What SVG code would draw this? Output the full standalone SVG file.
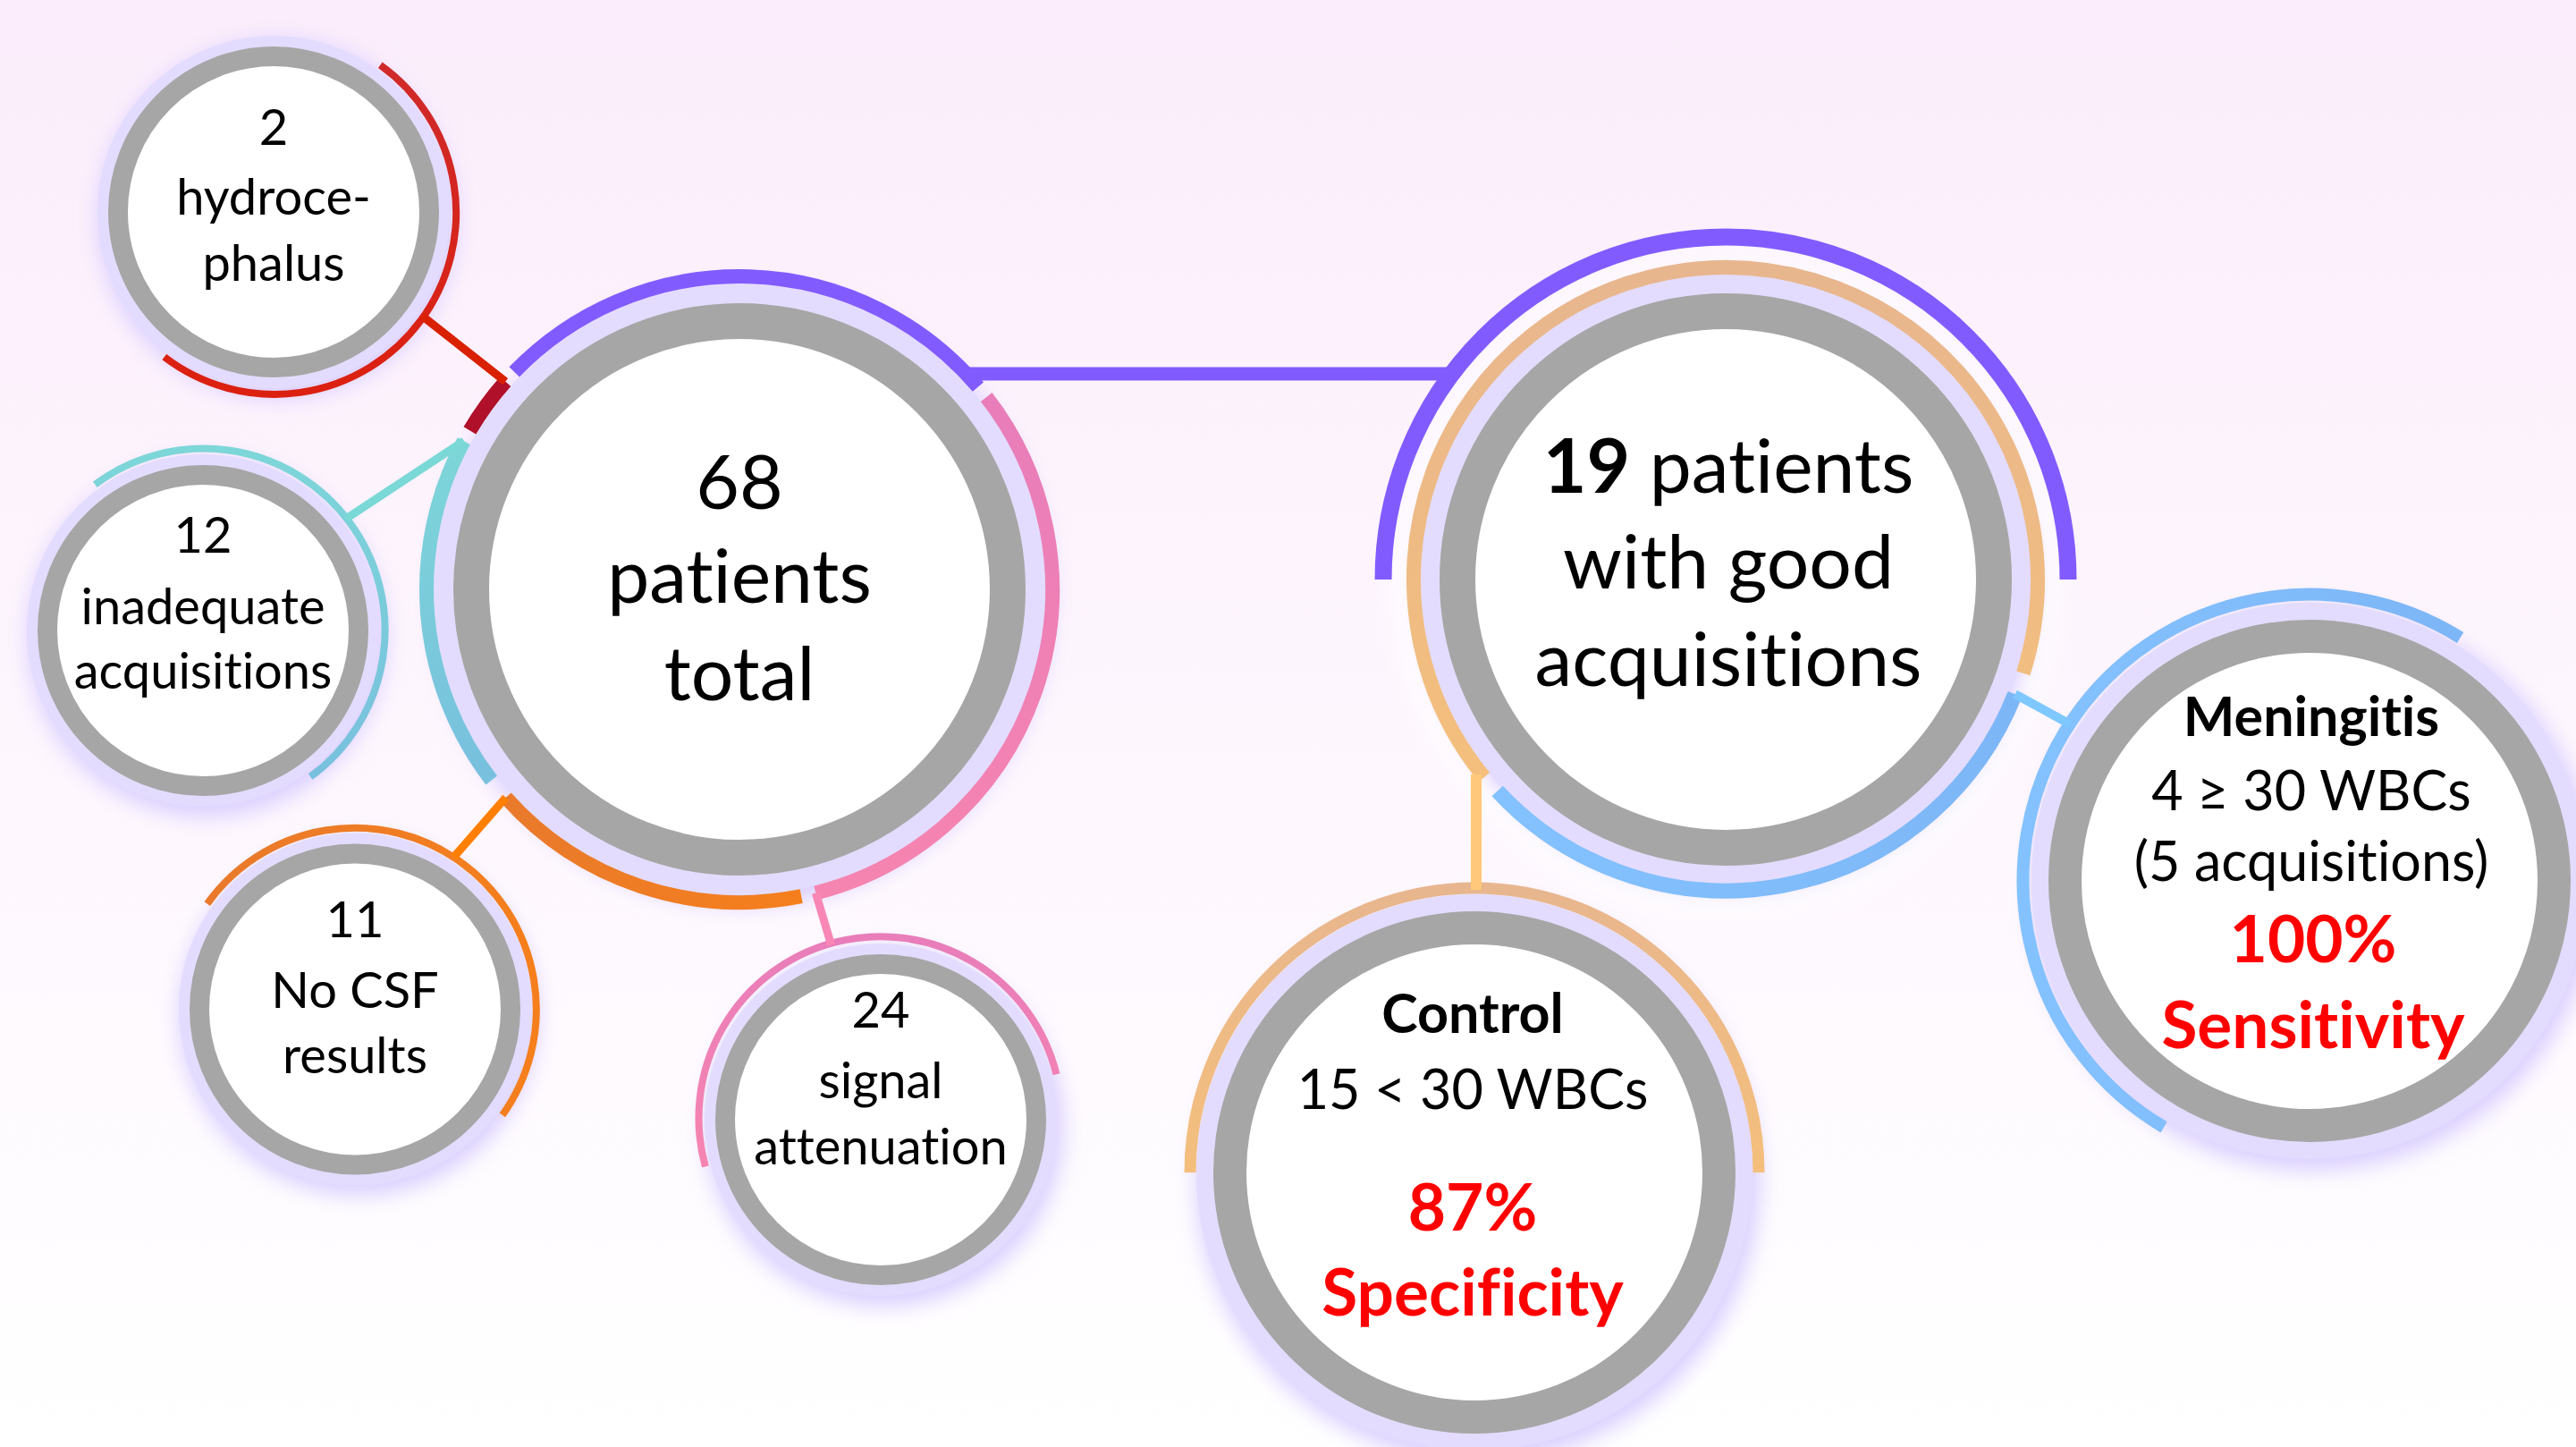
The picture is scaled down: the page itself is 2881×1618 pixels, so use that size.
<svg xmlns="http://www.w3.org/2000/svg" width="2881" height="1618" viewBox="0 0 2881 1618">
  <defs>
    <linearGradient id="bg" x1="0" y1="0" x2="0" y2="1">
      <stop offset="0" stop-color="#FBEDFB"/>
      <stop offset="0.6" stop-color="#FEF8FE"/>
      <stop offset="1" stop-color="#FFFFFF"/>
    </linearGradient>
    <linearGradient id="gCyan" x1="0" y1="0" x2="0" y2="1">
      <stop offset="0" stop-color="#7DD6D8"/>
      <stop offset="1" stop-color="#78C0DE"/>
    </linearGradient>
    <linearGradient id="gPink" x1="0" y1="0" x2="0" y2="1">
      <stop offset="0" stop-color="#E87DBA"/>
      <stop offset="1" stop-color="#F684B0"/>
    </linearGradient>
    <linearGradient id="gOrange" x1="0" y1="0" x2="1" y2="0">
      <stop offset="0" stop-color="#E97A2C"/>
      <stop offset="1" stop-color="#F57F1C"/>
    </linearGradient>
    <linearGradient id="gRed" x1="0" y1="0" x2="0" y2="1">
      <stop offset="0" stop-color="#CF2A2A"/>
      <stop offset="1" stop-color="#DC2010"/>
    </linearGradient>
    <linearGradient id="gGold" x1="0" y1="0" x2="0" y2="1">
      <stop offset="0" stop-color="#E8B68E"/>
      <stop offset="1" stop-color="#F4BF7C"/>
    </linearGradient>
    <linearGradient id="gBlue" x1="0" y1="0" x2="1" y2="0">
      <stop offset="0" stop-color="#84C2FF"/>
      <stop offset="1" stop-color="#7DB6F6"/>
    </linearGradient>
    <filter id="glow" x="-30%" y="-30%" width="160%" height="160%">
      <feGaussianBlur stdDeviation="12"/>
    </filter>
    <style>
      .halo { fill: #D9CEFF; filter: url(#glow); }
      .band { fill: #E3DCFE; }
      .face { fill: #FFFFFF; }
      .ring { fill: none; stroke: #A6A6A6; }
      .arc { fill: none; stroke-linecap: butt; }
      .link { fill: none; stroke-linecap: butt; }
      text { font-family: Lato, "Liberation Sans", sans-serif; fill: #000000; text-anchor: middle;
             font-variant-ligatures: none; font-feature-settings: "liga" 0, "clig" 0; }
      .s { font-size: 56px; }
      .L { font-size: 84px; }
      .m { font-size: 61px; }
      .b { font-weight: bold; }
      .red { fill: #FF0000; font-weight: bold; font-size: 73px; }
    </style>
  </defs>

  <rect x="0" y="0" width="2881" height="1618" fill="url(#bg)"/>

  <!-- 2 hydrocephalus -->
  <g id="node-hydrocephalus">
    <circle class="halo" cx="310" cy="245" r="200"/>
    <circle class="band" cx="306" cy="237" r="197"/>
    <circle class="face" cx="306" cy="237" r="174"/>
    <circle class="ring" cx="306" cy="237" r="174" stroke-width="22"/>
    <path class="arc" d="M425.3,72.8 A203,203 0 1,1 183.8,399.1" stroke="url(#gRed)" stroke-width="8"/>
    <text class="s" x="306" y="162">2</text>
    <text class="s" x="306" y="240">hydroce-</text>
    <text class="s" x="306" y="314">phalus</text>
  </g>

  <!-- 12 inadequate acquisitions -->
  <g id="node-inadequate">
    <circle class="halo" cx="231" cy="713" r="200"/>
    <circle class="band" cx="227" cy="705" r="197"/>
    <circle class="face" cx="227" cy="705" r="174"/>
    <circle class="ring" cx="227" cy="705" r="174" stroke-width="22"/>
    <path class="arc" d="M106.3,541.8 A203,203 0 1,1 347.2,868.6" stroke="url(#gCyan)" stroke-width="8"/>
    <text class="s" x="227" y="618">12</text>
    <text class="s" x="227" y="698">inadequate</text>
    <text class="s" x="227" y="770">acquisitions</text>
  </g>

  <!-- 11 No CSF results -->
  <g id="node-nocsf">
    <circle class="halo" cx="401" cy="1136" r="200"/>
    <circle class="band" cx="397" cy="1128.5" r="197"/>
    <circle class="face" cx="397" cy="1128.5" r="174"/>
    <circle class="ring" cx="397" cy="1128.5" r="174" stroke-width="22"/>
    <path class="arc" d="M231.7,1010.6 A203,203 0 1,1 561.9,1246.9" stroke="url(#gOrange)" stroke-width="8"/>
    <text class="s" x="397" y="1048">11</text>
    <text class="s" x="397" y="1127">No CSF</text>
    <text class="s" x="397" y="1200">results</text>
  </g>

  <!-- 24 signal attenuation -->
  <g id="node-signal">
    <circle class="halo" cx="989" cy="1260" r="200"/>
    <circle class="band" cx="985" cy="1252" r="197"/>
    <circle class="face" cx="985" cy="1252" r="174"/>
    <circle class="ring" cx="985" cy="1252" r="174" stroke-width="22"/>
    <path class="arc" d="M788.9,1304.5 A203,203 0 1,1 1181.5,1201.2" stroke="url(#gPink)" stroke-width="8"/>
    <text class="s" x="985" y="1149">24</text>
    <text class="s" x="985" y="1228">signal</text>
    <text class="s" x="985" y="1302">attenuation</text>
  </g>

  <!-- 68 patients total -->
  <g id="node-total">
    <circle class="halo" cx="831" cy="667" r="345"/>
    <circle class="band" cx="827" cy="659" r="342"/>
    <circle class="face" cx="827" cy="659" r="300"/>
    <circle class="ring" cx="827" cy="659" r="300" stroke-width="40"/>
    <path class="arc" d="M575.2,415.9 A350,350 0 0,1 1093.9,432.6" stroke="#825BFF" stroke-width="16"/>
    <path class="arc" d="M1103.2,444 A350,350 0 0,1 912.3,998.5" stroke="url(#gPink)" stroke-width="16"/>
    <path class="arc" d="M896.2,1002.1 A350,350 0 0,1 565.7,891.8" stroke="url(#gOrange)" stroke-width="16"/>
    <path class="arc" d="M549.7,872.5 A350,350 0 0,1 518.8,493.1" stroke="url(#gCyan)" stroke-width="16"/>
    <path class="arc" d="M525.4,481.4 A350,350 0 0,1 565.3,426.6" stroke="#B0102A" stroke-width="16"/>
    <text class="L" x="827" y="569">68</text>
    <text class="L" x="827" y="674">patients</text>
    <text class="L" x="827" y="783">total</text>
  </g>

  <!-- 19 patients with good acquisitions -->
  <g id="node-good">
    <circle class="halo" cx="1934" cy="656" r="345"/>
    <circle cx="1930" cy="648" r="362" fill="none" stroke="#FFFFFF" stroke-width="22" opacity="0.8" filter="url(#glow)"/>
    <circle class="band" cx="1930" cy="648" r="342"/>
    <circle class="face" cx="1930" cy="648" r="300"/>
    <circle class="ring" cx="1930" cy="648" r="300" stroke-width="40"/>
    <path class="arc" d="M1659.9,869.1 A349,349 0 1,1 2262.8,752.9" stroke="url(#gGold)" stroke-width="16"/>
    <path class="arc" d="M2253.6,776.1 A348,348 0 0,1 1674.7,884.4" stroke="url(#gBlue)" stroke-width="17"/>
    <path class="arc" d="M1547,648 A383,383 0 0,1 2313,648" stroke="#825BFF" stroke-width="19"/>
    <text class="L" x="1933" y="551"><tspan class="b">19</tspan> patients</text>
    <text class="L" x="1933" y="658">with good</text>
    <text class="L" x="1933" y="767">acquisitions</text>
  </g>

  <!-- Control -->
  <g id="node-control">
    <circle class="halo" cx="1653" cy="1319" r="315"/>
    <circle class="band" cx="1649" cy="1311" r="311"/>
    <circle class="face" cx="1649" cy="1311" r="273.5"/>
    <circle class="ring" cx="1649" cy="1311" r="273.5" stroke-width="37"/>
    <path class="arc" d="M1331,1311 A318,318 0 0,1 1967,1311" stroke="url(#gGold)" stroke-width="13"/>
    <text class="m b" x="1647" y="1155">Control</text>
    <text class="m" x="1647" y="1240">15 &lt; 30 WBCs</text>
    <text class="red" x="1647" y="1376">87%</text>
    <text class="red" x="1647" y="1471">Specificity</text>
  </g>

  <!-- Meningitis -->
  <g id="node-meningitis">
    <circle class="halo" cx="2587" cy="993" r="315"/>
    <circle class="band" cx="2583" cy="985" r="311"/>
    <circle class="face" cx="2583" cy="985" r="273.5"/>
    <circle class="ring" cx="2583" cy="985" r="273.5" stroke-width="37"/>
    <path class="arc" d="M2420.1,1260.4 A320,320 0 1,1 2751.6,713" stroke="url(#gBlue)" stroke-width="14"/>
    <text class="m b" x="2585" y="823">Meningitis</text>
    <text class="m" x="2585" y="906">4 ≥ 30 WBCs</text>
    <text class="m" x="2585" y="985">(5 acquisitions)</text>
    <text class="red" x="2587" y="1076">100%</text>
    <text class="red" x="2587" y="1172">Sensitivity</text>
  </g>

  <!-- connectors -->
  <g id="connectors">
    <path class="link" d="M472.3,353.4 L565.3,426.6" stroke="#D92000" stroke-width="9"/>
    <path class="link" d="M387,580 L518.8,493.1" stroke="#7AD8D6" stroke-width="9"/>
    <path class="link" d="M507.6,958.3 L565.7,891.8" stroke="#FF7F00" stroke-width="9"/>
    <path class="link" d="M929.7,1056.7 L912.3,998.5" stroke="#F987B5" stroke-width="9"/>
    <path class="link" d="M1082,418 L1626,418" stroke="#825BFF" stroke-width="15"/>
    <path class="link" d="M1651,866 L1651,995" stroke="#FFC87A" stroke-width="12"/>
    <path class="link" d="M2253.6,776.1 L2315.2,809.8" stroke="#7EC8FF" stroke-width="10"/>
  </g>
</svg>
